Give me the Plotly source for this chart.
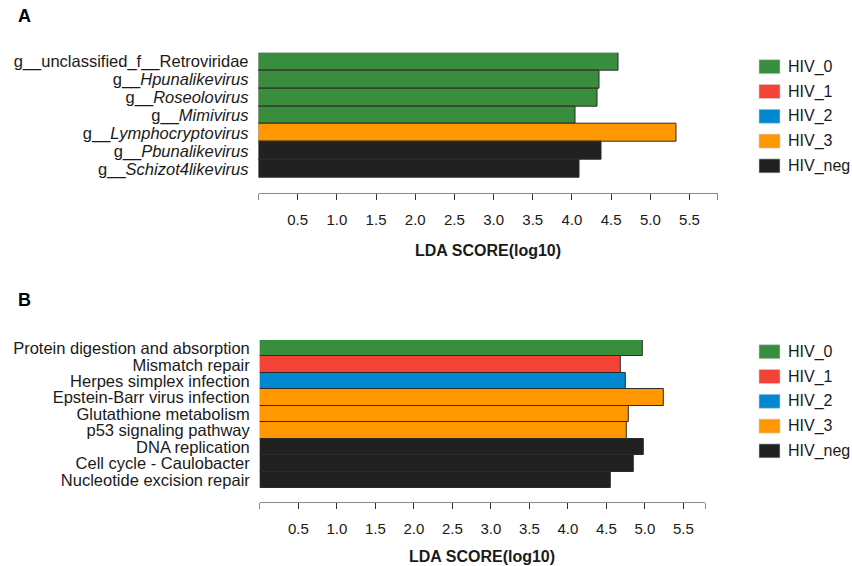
import plotly.graph_objects as go

# ---- data ----
classes = ["HIV_0", "HIV_1", "HIV_2", "HIV_3", "HIV_neg"]
class_colors = ["#388e3c", "#f44336", "#0288d1", "#ff9800", "#212121"]

genus_names = [
    "g__unclassified_f__Retroviridae",
    "g__Hpunalikevirus",
    "g__Roseolovirus",
    "g__Mimivirus",
    "g__Lymphocryptovirus",
    "g__Pbunalikevirus",
    "g__Schizot4likevirus",
]
genus_labels = [
    "g__unclassified_f__Retroviridae",
    "g__<i>Hpunalikevirus</i>",
    "g__<i>Roseolovirus</i>",
    "g__<i>Mimivirus</i>",
    "g__<i>Lymphocryptovirus</i>",
    "g__<i>Pbunalikevirus</i>",
    "g__<i>Schizot4likevirus</i>",
]
genus_class = ["HIV_0", "HIV_0", "HIV_0", "HIV_0", "HIV_3", "HIV_neg", "HIV_neg"]
genus_lda = [4.59, 4.35, 4.32, 4.05, 5.33, 4.38, 4.10]

pathway_names = [
    "Protein digestion and absorption",
    "Mismatch repair",
    "Herpes simplex infection",
    "Epstein-Barr virus infection",
    "Glutathione metabolism",
    "p53 signaling pathway",
    "DNA replication",
    "Cell cycle - Caulobacter",
    "Nucleotide excision repair",
]
pathway_class = ["HIV_0", "HIV_1", "HIV_2", "HIV_3", "HIV_3", "HIV_3",
                 "HIV_neg", "HIV_neg", "HIV_neg"]
pathway_lda = [4.97, 4.69, 4.75, 5.25, 4.79, 4.76, 4.99, 4.86, 4.56]

tick_values = [0.5, 1.0, 1.5, 2.0, 2.5, 3.0, 3.5, 4.0, 4.5, 5.0, 5.5]
tick_labels = ["0.5", "1.0", "1.5", "2.0", "2.5", "3.0", "3.5", "4.0", "4.5", "5.0", "5.5"]
axis_title = "LDA SCORE(log10)"

# ---- styling ----
W, H = 852, 566
FONT = "Liberation Sans, Arial, sans-serif"
TXT = "#1a1a1a"
color_of = dict(zip(classes, class_colors))


def px_x(x):
    return x / W


def px_y(y):
    return 1 - y / H


panels = [
    dict(name="A", cats=genus_names, labels=genus_labels, cls=genus_class, vals=genus_lda,
         xdom=(258.5, 717.7), ytop=52.7, ybars=177.7, yaxis_line=193.3, xmax=5.86,
         letter_y=16.5, title_y=250, legend_y0=66.7),
    dict(name="B", cats=pathway_names, labels=pathway_names, cls=pathway_class, vals=pathway_lda,
         xdom=(259.8, 705.0), ytop=340.0, ybars=488.3, yaxis_line=501.7, xmax=5.78,
         letter_y=300, title_y=556.7, legend_y0=351.7),
]

fig = go.Figure()
shapes, annotations = [], []

for i, p in enumerate(panels):
    sfx = "" if i == 0 else str(i + 1)
    n = len(p["cats"])
    fig.add_trace(go.Bar(
        x=p["vals"], y=p["cats"], orientation="h",
        marker=dict(color=[color_of[c] for c in p["cls"]],
                    line=dict(color="#2b2b2b", width=1)),
        xaxis="x" + sfx, yaxis="y" + sfx, showlegend=False,
    ))

    # bars fill rows of equal height; leave a gap above the x axis line
    bar_zone = p["ybars"] - p["ytop"]
    extra = (p["yaxis_line"] - p["ybars"]) / (bar_zone / n)

    xa = dict(
        domain=[px_x(p["xdom"][0]), px_x(p["xdom"][1])],
        anchor="y" + sfx, range=[0, p["xmax"]],
        showgrid=False, zeroline=False,
        showline=True, linecolor="#8a8a8a", linewidth=1.2,
        tickmode="array", tickvals=tick_values, ticktext=tick_labels,
        ticks="outside", ticklen=6, tickwidth=1.2, tickcolor="#333333",
        ticklabelstandoff=7,
        tickfont=dict(family=FONT, size=15, color=TXT),
        minor=dict(tickmode="array", tickvals=[0, p["xmax"] - 1e-6], ticks="outside",
                   ticklen=6, tickwidth=1.2, tickcolor="#8a8a8a", showgrid=False),
    )
    ya = dict(
        domain=[px_y(p["yaxis_line"]), px_y(p["ytop"])],
        anchor="x" + sfx, type="category",
        categoryorder="array", categoryarray=p["cats"],
        range=[n - 0.5 + extra, -0.5],
        showgrid=False, zeroline=False, showline=False,
        tickmode="array", tickvals=p["cats"], ticktext=p["labels"],
        ticks="", ticklabelstandoff=9,
        tickfont=dict(family=FONT, size=16.5, color=TXT),
    )
    fig.update_layout(**{"xaxis" + sfx: xa, "yaxis" + sfx: ya})

    # panel letter
    annotations.append(dict(
        text="<b>%s</b>" % p["name"], xref="paper", yref="paper",
        x=px_x(16), y=px_y(p["letter_y"]), xanchor="left", yanchor="middle",
        showarrow=False, font=dict(family=FONT, size=18, color="#000000"),
    ))
    # x axis title
    annotations.append(dict(
        text="<b>%s</b>" % axis_title, xref="paper", yref="paper",
        x=px_x((p["xdom"][0] + p["xdom"][1]) / 2), y=px_y(p["title_y"]),
        xanchor="center", yanchor="middle", showarrow=False,
        font=dict(family=FONT, size=16, color=TXT),
    ))
    # class legend
    for k, (c, col) in enumerate(zip(classes, class_colors)):
        cy = p["legend_y0"] + 24.8 * k
        shapes.append(dict(
            type="rect", xref="paper", yref="paper",
            x0=px_x(759), x1=px_x(780), y0=px_y(cy + 7), y1=px_y(cy - 7),
            fillcolor=col, line=dict(color="#d0d0d0", width=0.6),
        ))
        annotations.append(dict(
            text=c, xref="paper", yref="paper",
            x=px_x(786), y=px_y(cy), xanchor="left", yanchor="middle",
            showarrow=False, font=dict(family=FONT, size=16, color=TXT),
        ))

fig.update_layout(
    width=W, height=H,
    margin=dict(l=0, r=0, t=0, b=0),
    paper_bgcolor="white", plot_bgcolor="white",
    bargap=0, showlegend=False,
    shapes=shapes, annotations=annotations,
)

fig.write_html("out.html")
